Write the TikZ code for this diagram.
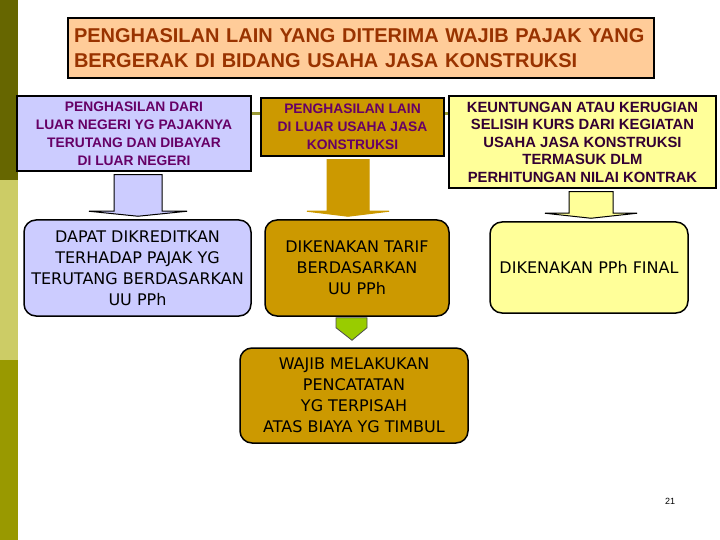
\documentclass[tikz,border=0pt]{standalone}
\usepackage{fontspec}
\setmainfont{Liberation Sans}
\newfontfamily\lowfont{DejaVu Sans}
\usetikzlibrary{calc,backgrounds}
\definecolor{side1}{HTML}{666600}
\definecolor{side2}{HTML}{CCCC66}
\definecolor{side3}{HTML}{999900}
\definecolor{peach}{HTML}{FFCC99}
\definecolor{brick}{HTML}{993300}
\definecolor{lav}{HTML}{CCCCFF}
\definecolor{gold}{HTML}{CC9900}
\definecolor{yel}{HTML}{FFFF99}
\definecolor{plum}{HTML}{660066}
\definecolor{darkplum}{HTML}{330033}
\definecolor{lime}{HTML}{99CC00}
\definecolor{linkline}{HTML}{999933}
\tikzset{
  headbox/.style={draw, line width=1.5pt, inner sep=0pt, align=center,
    font=\bfseries\fontsize{13.8}{18}\selectfont, text=plum},
  lowbox/.style={draw, line width=1.5pt, rounded corners=12pt, inner sep=0pt,
    align=center, font=\lowfont\fontsize{16}{21}\selectfont},
}
\begin{document}
\begin{tikzpicture}[x=1pt,y=-1pt]
  \useasboundingbox (0,0) rectangle (720,540);
  \foreach \y/\c in {0/side1,180/side2,360/side3}
    \fill[\c] (0,\y) rectangle (18,\y+180);
  \node[draw, fill=peach, line width=1.5pt, inner sep=0pt, minimum width=586pt,
    minimum height=60pt, text width=574pt, align=left, text=brick,
    font=\bfseries\fontsize{20}{25}\selectfont] (title) at (361,48)
    {PENGHASILAN LAIN YANG DITERIMA WAJIB PAJAK YANG\\
     BERGERAK DI BIDANG USAHA JASA KONSTRUKSI};
  % upper row
  \node[headbox, fill=lav, minimum width=234pt, minimum height=75pt] (b1) at (134,133.5)
    {PENGHASILAN DARI\\ LUAR NEGERI YG PAJAKNYA\\ TERUTANG DAN DIBAYAR\\ DI LUAR NEGERI};
  \node[headbox, fill=gold, minimum width=183pt, minimum height=58pt] (b2) at (352.5,127)
    {PENGHASILAN LAIN\\ DI LUAR USAHA JASA\\ KONSTRUKSI};
  \node[headbox, fill=yel, text=darkplum, minimum width=267pt, minimum height=92pt,
    font=\bfseries\fontsize{14.8}{17.5}\selectfont] (b3) at (582.5,142)
    {KEUNTUNGAN ATAU KERUGIAN\\ SELISIH KURS DARI KEGIATAN\\ USAHA JASA KONSTRUKSI\\
     TERMASUK DLM\\ PERHITUNGAN NILAI KONTRAK};
  % lower row
  \node[lowbox, fill=lav, minimum width=227pt, minimum height=96pt] (d1) at (137.5,268)
    {DAPAT DIKREDITKAN\\ TERHADAP PAJAK YG\\ TERUTANG BERDASARKAN\\ UU PPh};
  \node[lowbox, fill=gold, minimum width=184pt, minimum height=96pt] (d2) at (357,268)
    {DIKENAKAN TARIF\\ BERDASARKAN\\ UU PPh};
  \node[lowbox, fill=yel, minimum width=198pt, minimum height=91pt] (d3) at (589,267.5)
    {DIKENAKAN PPh FINAL};
  \node[lowbox, fill=gold, minimum width=228pt, minimum height=95pt] (w) at (354,395.5)
    {WAJIB MELAKUKAN\\ PENCATATAN\\ YG TERPISAH\\ ATAS BIAYA YG TIMBUL};
  \node[font=\fontsize{9}{10}\selectfont] (pg) at (670,501) {21};
  \begin{scope}[on background layer]
    \draw[linkline, line width=3pt] ($(b1.north east)+(0,18)$) -- ($(b3.north west)+(0,18)$);
  \end{scope}
  \foreach \from/\to/\cx/\sw/\hw/\col/\ln in
      {b1/d1/138/24/49/lav/black, b2/d2/348/21/41/gold/gold, b3/d3/591/22/46/yel/black}
    \filldraw[fill=\col, draw=\ln, line width=1pt]
      let \p1=(\from.south), \p2=(\to.north) in
      ({(\cx-\sw)*1pt},\y1-3pt) -- ({(\cx+\sw)*1pt},\y1-3pt) -- ({(\cx+\sw)*1pt},\y2+8pt)
      -- ({(\cx+\hw)*1pt},\y2+8pt) -- ({\cx*1pt},\y2+3pt) -- ({(\cx-\hw)*1pt},\y2+8pt)
      -- ({(\cx-\sw)*1pt},\y2+8pt) -- cycle;
  \filldraw[fill=lime, draw=black!70, line width=0.8pt]
    let \p1=(d2.south), \p2=(w.north) in
    (336pt,\y1-1pt) -- (367pt,\y1-1pt) -- (367pt,\y1-11pt) -- (352pt,\y2+7pt)
    -- (336pt,\y1-11pt) -- cycle;
\end{tikzpicture}
\end{document}
